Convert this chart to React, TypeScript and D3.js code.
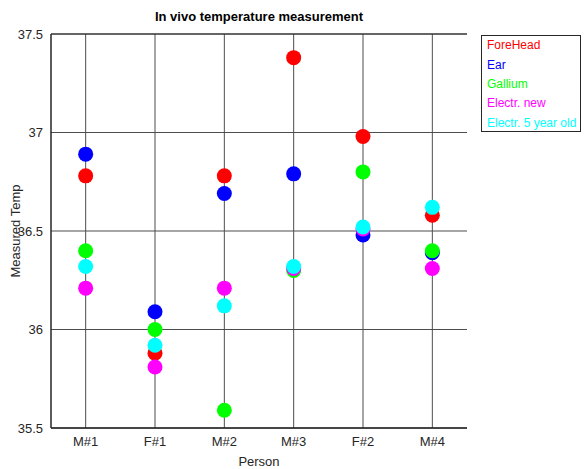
import React from "react";
import * as d3 from "d3";

const persons = ["M#1", "F#1", "M#2", "M#3", "F#2", "M#4"];
const seriesNames = ["ForeHead", "Ear", "Gallium", "Electr. new", "Electr. 5 year old"];
const seriesColors = ["#ff0000", "#0000ff", "#00ff00", "#ff00ff", "#00ffff"];
const foreHead = [36.78, 35.88, 36.78, 37.38, 36.98, 36.58];
const ear = [36.89, 36.09, 36.69, 36.79, 36.48, 36.39];
const gallium = [36.40, 36.00, 35.59, 36.30, 36.80, 36.40];
const electrNew = [36.21, 35.81, 36.21, 36.31, 36.51, 36.31];
const electrOld = [36.32, 35.92, 36.12, 36.32, 36.52, 36.62];
const yTicks = [35.5, 36, 36.5, 37, 37.5];

const seriesValues = [foreHead, ear, gallium, electrNew, electrOld];

export default function App() {
  const W = 584, H = 469;
  const left = 51, right = 467, top = 34, bottom = 428;
  const x = d3.scaleLinear().domain([0.5, 6.5]).range([left, right]);
  const y = d3.scaleLinear().domain([35.5, 37.5]).range([bottom, top]);
  const font = "'Liberation Sans', Arial, Helvetica, sans-serif";
  const axisColor = "#262626";
  const gridColor = "#4d4d4d";

  return (
    <svg width={W} height={H} style={{ position: "absolute", left: 0, top: 0, background: "#fff" }} fontFamily={font}>
      <rect x={0} y={0} width={W} height={H} fill="#fff" />
      {/* grid */}
      {yTicks.map((t) => (
        <line key={"gy" + t} x1={left} x2={right} y1={y(t)} y2={y(t)} stroke={gridColor} strokeWidth={1} />
      ))}
      {persons.map((p, i) => (
        <line key={"gx" + p} x1={x(i + 1)} x2={x(i + 1)} y1={top} y2={bottom} stroke={gridColor} strokeWidth={1} />
      ))}
      {/* axes */}
      <line x1={left} x2={right} y1={bottom} y2={bottom} stroke={axisColor} strokeWidth={1.5} />
      <line x1={left} x2={left} y1={top} y2={bottom} stroke={axisColor} strokeWidth={1.5} />
      <line x1={left} x2={right} y1={top} y2={top} stroke={axisColor} strokeWidth={1.2} />
      {/* y tick labels */}
      {yTicks.map((t) => (
        <text key={"ty" + t} x={left - 8} y={y(t)} dy="0.36em" textAnchor="end" fontSize={13} fill={axisColor}>
          {String(t)}
        </text>
      ))}
      {/* x tick labels */}
      {persons.map((p, i) => (
        <text key={"tx" + p} x={x(i + 1)} y={bottom + 18} textAnchor="middle" fontSize={13} fill={axisColor}>
          {p}
        </text>
      ))}
      {/* axis labels */}
      <text x={(left + right) / 2} y={466} textAnchor="middle" fontSize={13} fill={axisColor}>Person</text>
      <text transform={`translate(20,${(top + bottom) / 2}) rotate(-90)`} textAnchor="middle" fontSize={13} fill={axisColor}>
        Measured Temp
      </text>
      {/* title */}
      <text x={(left + right) / 2} y={21} textAnchor="middle" fontSize={13} fontWeight="bold" fill="#000">
        In vivo temperature measurement
      </text>
      {/* points */}
      {seriesValues.map((vals, s) => (
        <g key={"s" + s}>
          {vals.map((v, i) => (
            <circle key={i} cx={x(i + 1)} cy={y(v)} r={7.5} fill={seriesColors[s]} />
          ))}
        </g>
      ))}
      {/* legend */}
      <rect x={481.5} y={35.5} width={99} height={96} fill="#fff" stroke={axisColor} strokeWidth={1} />
      {seriesNames.map((n, s) => (
        <text key={"l" + s} x={487} y={45 + s * 19.3} dy="0.36em" fontSize={12} fill={seriesColors[s]}>
          {n}
        </text>
      ))}
    </svg>
  );
}
